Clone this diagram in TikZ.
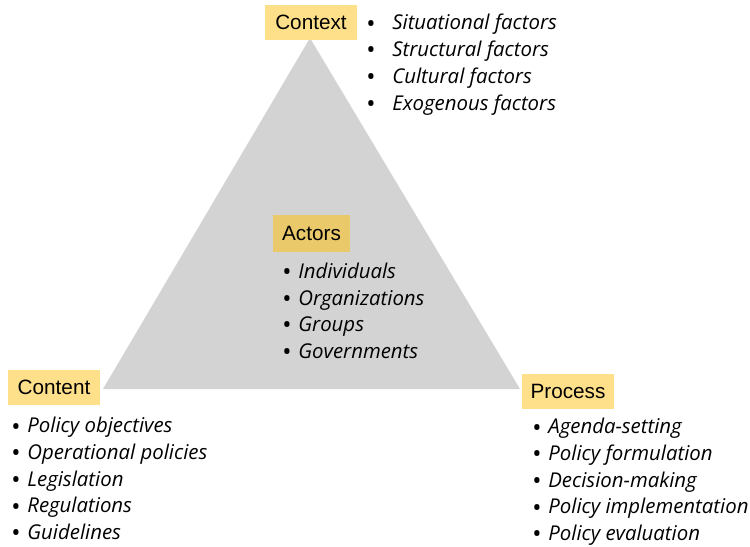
\documentclass[tikz,border=0pt]{standalone}
\usepackage{fontspec}
\setmainfont{Open Sans}
\newfontfamily\tagfont{Liberation Sans}
\usetikzlibrary{positioning}
\definecolor{triGray}{HTML}{D3D3D3}
\definecolor{tagYellow}{HTML}{FFE08A}
\definecolor{tagGold}{HTML}{EAC96B}

% one bullet line: bullet in a fixed-width box, then the italic item
\newcommand{\itm}[2][0.32cm]{\makebox[#1][l]{\raisebox{-0.2ex}{\fontsize{14}{14}\selectfont\textbullet}}\textit{#2}}

\begin{document}
\begin{tikzpicture}[
  tag/.style={fill=tagYellow,minimum width=1.84cm,minimum height=0.7cm,inner sep=2pt,
              font=\tagfont\fontsize{11.8}{13}\selectfont},
  tagIn/.style={tag,fill=tagGold,minimum width=1.54cm,minimum height=0.74cm},
  items/.style={anchor=north west,inner sep=0pt,align=left,
                font=\fontsize{11.6}{15.2}\selectfont},
]
\useasboundingbox (0,0) rectangle (15,-10.94);

% the triangle
\coordinate (apex) at (6.2,-0.76);
\coordinate (cornerL) at (2.06,-7.78);
\coordinate (cornerR) at (10.4,-7.78);
\fill[triGray] (apex) -- (cornerL) -- (cornerR) -- cycle;

% corner tags
\node[tag] (context) at (6.22,-0.44) {Context};
\node[tag] (content) at (1.08,-7.75) {Content};
\node[tag] (process) at (11.36,-7.82) {Process};
\node[tagIn] (actors) at (6.23,-4.67) {Actors};

% item lists
\node[items] (contextList) at (7.32,-0.28) {%
  \itm[0.52cm]{Situational factors}\\
  \itm[0.52cm]{Structural factors}\\
  \itm[0.52cm]{Cultural factors}\\
  \itm[0.52cm]{Exogenous factors}};
\node[items] (actorsList) at (5.64,-5.25) {%
  \itm{Individuals}\\
  \itm{Organizations}\\
  \itm{Groups}\\
  \itm{Governments}};
\node[items] (contentList) at (0.22,-8.34) {%
  \itm{Policy objectives}\\
  \itm{Operational policies}\\
  \itm{Legislation}\\
  \itm{Regulations}\\
  \itm{Guidelines}};
\node[items] (processList) at (10.64,-8.36) {%
  \itm{Agenda-setting}\\
  \itm{Policy formulation}\\
  \itm{Decision-making}\\
  \itm{Policy implementation}\\
  \itm{Policy evaluation}};
\end{tikzpicture}
\end{document}
